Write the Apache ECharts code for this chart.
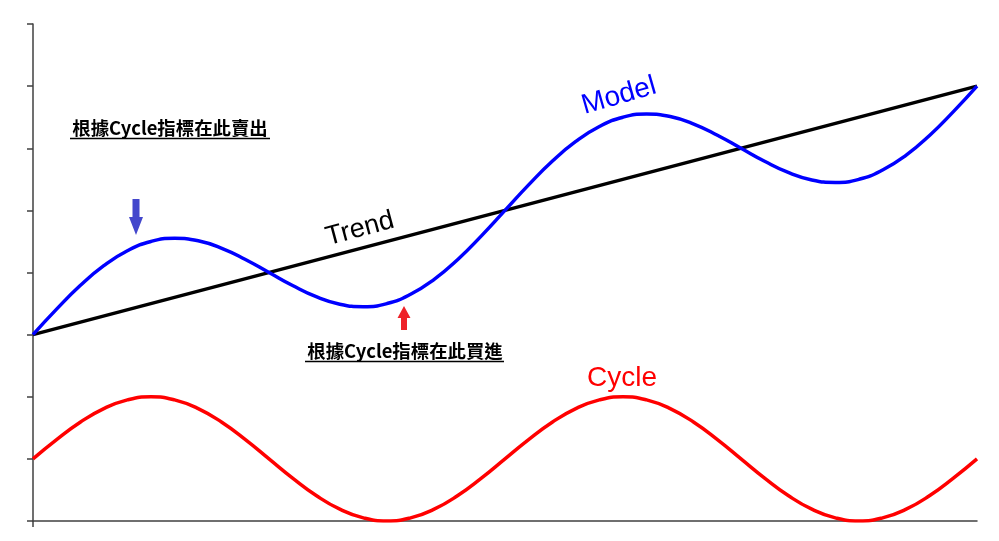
<!DOCTYPE html>
<html>
<head>
<meta charset="utf-8">
<script src="https://cdn.jsdelivr.net/npm/echarts@6/dist/echarts.min.js"></script>
<style>
html,body{margin:0;padding:0;background:#fff;}
#c{width:999px;height:541px;}
</style>
</head>
<body>
<div id="c"></div>
<script>
// x positions (time steps)
const steps = [0,1,2,3,4,5,6,7,8,9,10,11,12,13,14,15,16,17,18,19,20,21,22,23,24,25,26,27,28,29,30,31,32,33,34,35,36,37,38,39,40];
// Cycle (red)
const cycle = [1.00,1.31,1.59,1.81,1.95,2.00,1.95,1.81,1.59,1.31,1.00,0.69,0.41,0.19,0.05,0.00,0.05,0.19,0.41,0.69,1.00,1.31,1.59,1.81,1.95,2.00,1.95,1.81,1.59,1.31,1.00,0.69,0.41,0.19,0.05,0.00,0.05,0.19,0.41,0.69,1.00];
// Model (blue)
const model = [3.00,3.41,3.79,4.11,4.35,4.50,4.55,4.51,4.39,4.21,4.00,3.79,3.61,3.49,3.45,3.50,3.65,3.89,4.21,4.59,5.00,5.41,5.79,6.11,6.35,6.50,6.55,6.51,6.39,6.21,6.00,5.79,5.61,5.49,5.45,5.50,5.65,5.89,6.21,6.59,7.00];
// Trend (black) - straight line, endpoints
const trendX = [0,40];
const trendY = [3.00,7.00];

const yTicks = [0,1,2,3,4,5,6,7,8];

const chart = echarts.init(document.getElementById('c'), null, {renderer:'canvas'});
const cjk = '"Noto Sans CJK TC","Noto Sans CJK SC",sans-serif';
const latin = '"Liberation Sans",Arial,sans-serif';

chart.setOption({
  animation:false,
  grid:{left:33,right:22,top:24,bottom:20,containLabel:false},
  xAxis:{
    type:'value', min:0, max:40, interval:40,
    axisLine:{show:true,lineStyle:{color:'#404040',width:1.5}},
    axisTick:{show:false},
    axisLabel:{show:false},
    splitLine:{show:false}
  },
  yAxis:{
    type:'value', min:yTicks[0], max:yTicks[yTicks.length-1], interval:1,
    axisLine:{show:true,onZero:false,lineStyle:{color:'#404040',width:1.5}},
    axisTick:{show:true,length:6,lineStyle:{color:'#404040',width:1.5}},
    axisLabel:{show:false},
    splitLine:{show:false}
  },
  series:[
    {type:'line', name:'Trend', data:trendX.map((x,i)=>[x,trendY[i]]), showSymbol:false, lineStyle:{color:'#000',width:3.5}},
    {type:'line', name:'Model', data:steps.map((x,i)=>[x,model[i]]), smooth:true, showSymbol:false, lineStyle:{color:'#0000ff',width:3.5}},
    {type:'line', name:'Cycle', data:steps.map((x,i)=>[x,cycle[i]]), smooth:true, showSymbol:false, lineStyle:{color:'#ff0000',width:3.5}}
  ],
  graphic:[
    // small tick below origin
    {type:'line', shape:{x1:33,y1:521,x2:33,y2:527}, style:{stroke:'#404040',lineWidth:1.5}},
    // sell annotation
    {type:'text', x:170, y:128, style:{text:'根據Cycle指標在此賣出', font:'bold 18.4px '+cjk, fill:'#000', textAlign:'center', textVerticalAlign:'middle'}},
    {type:'line', shape:{x1:70,y1:138.5,x2:270,y2:138.5}, style:{stroke:'#000',lineWidth:1.5}},
    // buy annotation
    {type:'text', x:405, y:351, style:{text:'根據Cycle指標在此買進', font:'bold 18.4px '+cjk, fill:'#000', textAlign:'center', textVerticalAlign:'middle'}},
    {type:'line', shape:{x1:305,y1:361.5,x2:504,y2:361.5}, style:{stroke:'#000',lineWidth:1.5}},
    // blue down arrow
    {type:'polygon', shape:{points:[[132.5,199],[139.5,199],[139.5,217],[143,217],[136,235],[129,217],[132.5,217]]}, style:{fill:'#4347cc'}},
    // red up arrow
    {type:'polygon', shape:{points:[[404,306],[410.5,318],[407,318],[407,330],[401,330],[401,318],[397.5,318]]}, style:{fill:'#ee2229'}},
    // labels
    {type:'text', x:360, y:229, rotation:15*Math.PI/180, style:{text:'Trend', font:'27px '+latin, fill:'#000', textAlign:'center', textVerticalAlign:'middle'}},
    {type:'text', x:619, y:96, rotation:16*Math.PI/180, style:{text:'Model', font:'28px '+latin, fill:'#0000ff', textAlign:'center', textVerticalAlign:'middle'}},
    {type:'text', x:622, y:378, style:{text:'Cycle', font:'28px '+latin, fill:'#ff0000', textAlign:'center', textVerticalAlign:'middle'}}
  ]
});
</script>
</body>
</html>
